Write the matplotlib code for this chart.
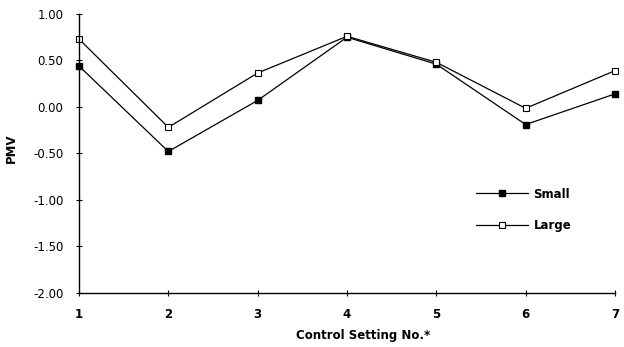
import matplotlib
matplotlib.use("Agg")
import matplotlib.pyplot as plt
from matplotlib.ticker import FormatStrFormatter

settings = [1, 2, 3, 4, 5, 6, 7]
small = [0.44, -0.48, 0.07, 0.75, 0.46, -0.19, 0.14]
large = [0.73, -0.22, 0.365, 0.76, 0.48, -0.015, 0.39]
yticks = [1.00, 0.50, 0.00, -0.50, -1.00, -1.50, -2.00]

plt.rcParams['font.family'] = ['DejaVu Sans']
plt.rcParams['axes.unicode_minus'] = False

fig = plt.figure(figsize=(6.24, 3.47), dpi=100)
ax = fig.add_axes([79/624, 1-292.7/347, (615-79)/624, (292.7-14)/347])

ax.plot(settings, small, color='black', lw=0.9, marker='s', ms=3.8,
        mfc='black', mec='black', label='Small', clip_on=False)
ax.plot(settings, large, color='black', lw=0.9, marker='s', ms=4.4,
        mfc='white', mec='black', mew=0.8, label='Large', clip_on=False)

ax.set_xlim(1, 7)
ax.set_ylim(-2, 1)
ax.set_xticks(settings)
ax.set_yticks(yticks)
ax.yaxis.set_major_formatter(FormatStrFormatter('%.2f'))
for s in ['top', 'right']:
    ax.spines[s].set_visible(False)
for s in ['left', 'bottom']:
    ax.spines[s].set_linewidth(1.0)
ax.tick_params(direction='inout', length=4.5, width=0.8, labelsize=8.5, pad=9)
for lbl in ax.get_xticklabels():
    lbl.set_fontweight('bold')

ax.set_xlabel('Control Setting No.*', fontsize=8.5, fontweight='bold')
ax.xaxis.set_label_coords((363-79)/(615-79), -(329-292.7)/(292.7-14))
ax.set_ylabel('PMV', fontsize=8.5, fontweight='bold')
ax.yaxis.set_label_coords(-(79-18)/(615-79), 0.52)

leg = ax.legend(loc='center left', bbox_to_anchor=(465/624, 1-210/347),
                bbox_transform=fig.transFigure, frameon=False,
                handlelength=4.4, handletextpad=0.5, labelspacing=1.6,
                prop={'size': 8.5, 'weight': 'bold'})

fig.savefig('out.png', dpi=100)
